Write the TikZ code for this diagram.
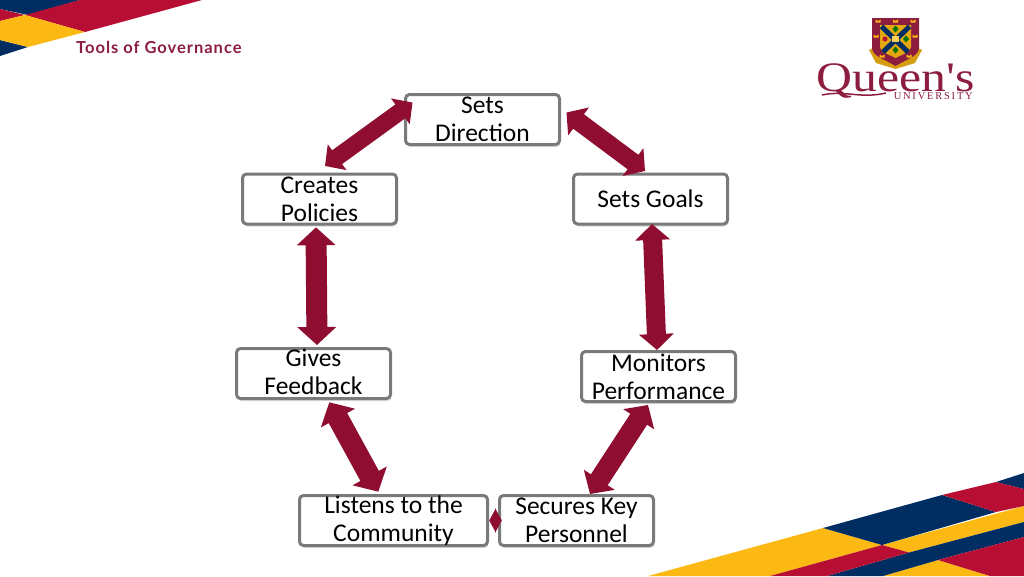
\documentclass[tikz,border=0pt]{standalone}
\usepackage{fontspec}
\setmainfont{Carlito}
\newfontfamily\headfont[LetterSpace=6]{Lato}
\newfontfamily\logofont{Liberation Serif}
\newfontfamily\univfont[LetterSpace=17]{Liberation Serif}
\usetikzlibrary{arrows.meta,shadows}
\definecolor{navyband}{HTML}{002D62}
\definecolor{redband}{HTML}{B90E34}
\definecolor{goldband}{HTML}{FDB913}
\definecolor{maroon}{HTML}{8F0D30}
\definecolor{logored}{HTML}{8C1D3F}
\definecolor{boxgray}{HTML}{7A7A7A}
\tikzset{
	stepbox/.style={draw=boxgray,line width=3pt,fill=white,rounded corners=4pt,inner sep=0pt,outer sep=0pt,
		minimum width=154pt,minimum height=50pt,align=center,font=\fontsize{25.5}{28}\selectfont,
		drop shadow={shadow xshift=1pt,shadow yshift=-2.5pt,opacity=0.3}},
	dblarrow/.style n args={3}{draw=maroon,line width=#1,
		{Triangle[length=#3,width=#2,fill=maroon]}-{Triangle[length=#3,width=#2,fill=maroon]}},
	tinyarrow/.style={draw=maroon,line width=0.1pt,{Triangle[length=6.5pt,width=24pt,fill=maroon]}-{Triangle[length=6.5pt,width=24pt,fill=maroon]}}
}
\begin{document}
\begin{tikzpicture}[x=1pt,y=-1pt,line join=round]
	\useasboundingbox (0,0) rectangle (1024,576);
	% top left bands
	\fill[navyband] (0,0)--(80,0)--(28,15)--(0,9)--cycle (0,40)--(28,47)--(0,56)--cycle;
	\fill[redband] (80,0)--(202,0)--(85,32)--(25,15)--cycle (0,9)--(25,15)--(0,21)--cycle;
	\fill[goldband] (0,21)--(25,15)--(85,32)--(28,47)--(0,40)--cycle;
	\node[anchor=west,inner sep=0pt,text=logored] (title) at (76,47.5) {\headfont\bfseries\fontsize{16.5}{18}\selectfont Tools of Governance};
	% bottom right bands
	\fill[goldband] (648,576)--(823,528)--(882,545)--(770,576)--cycle (882,545)--(1024,506)--(1024,522)--(909,552.5)--cycle (883,576)--(938,560)--(990,576)--cycle;
	\fill[navyband] (823,528)--(942,495)--(996,512)--(882,545)--cycle (996,482)--(1024,473)--(1024,489)--cycle (827,576)--(909,552.5)--(1024,522)--(1024,537)--(938,560)--(883,576)--cycle;
	\fill[redband] (942,495)--(996,482)--(1024,489)--(1024,506)--(996,512)--cycle (770,576)--(882,545)--(909,552.5)--(827,576)--cycle (938,560)--(1024,537)--(1024,576)--(990,576)--cycle;
	% crest
	\fill[goldband!85!black] (869,50)--(877,46)--(885,56)--(895.5,60)--(906,56)--(914,46)--(922,50)--(915,63)--(895.5,69)--(876,63)--cycle;
	\fill[logored] (872,18)--(919,18)--(919,48)..controls (919,56) and (905,60)..(895.5,66)..controls (886,60) and (872,56)..(872,48)--cycle;
	\fill[goldband!90!black] (880,25)--(911,25)--(911,47)..controls (911,52) and (901,55)..(895.5,58)..controls (890,55) and (880,52)..(880,47)--cycle;
	\draw[navyband,line width=5pt] (881.5,26.5)--(908,52) (909.5,26.5)--(883,52);
	\foreach \cx/\cy in {878/21,895.5/21,913/21,876/36,915/36,882/56,909/56}
		\fill[goldband] (\cx-2.5,\cy+1.5)--(\cx-2.5,\cy-1.5)--(\cx,\cy)--(\cx+2.5,\cy-1.5)--(\cx+2.5,\cy+1.5)--cycle;
	\foreach \cx/\cy in {895.5/29,906/39,895.5/50}
		\fill[green!45!black] (\cx-3,\cy)--(\cx,\cy-3.5)--(\cx+3,\cy)--(\cx,\cy+3.5)--cycle;
	\fill[redband] (885,39) circle (2.5pt);
	\fill[goldband!70!white] (892,36)--(899,36)--(899,42)--(892,42)--cycle;
	% wordmark
	\node[anchor=base west,inner sep=0pt,text=logored,xscale=1.185] (queens) at (816,91) {\logofont\fontsize{42}{46}\selectfont Queen's};
	\node[anchor=base east,inner sep=0pt,text=logored] (univ) at (973,99) {\univfont\fontsize{10.5}{12}\selectfont UNIVERSITY};
	\draw[logored,line width=1.5pt] (822,95)..controls (845,90) and (860,99)..(886,93);
	% boxes
	\node[stepbox] (direction) at (482.5,119.5) {Sets\\Direction};
	\node[stepbox] (goals) at (650.5,199) {Sets Goals};
	\node[stepbox] (policies) at (319.5,199) {Creates\\Policies};
	\node[stepbox] (feedback) at (313.5,373.5) {Gives\\Feedback\vphantom{g}};
	\node[stepbox] (monitors) at (658.5,376.5) {Monitors\\Performance};
	\node[stepbox,minimum width=188pt] (listens) at (393.5,520.5) {Listens to the\\Community};
	\node[stepbox] (secures) at (576.5,520.5) {Secures Key\\Personnel};
	% connectors
	\draw[dblarrow={17pt}{31pt}{15pt}] ([xshift=7pt,yshift=17pt]direction.west)--([xshift=5.5pt,yshift=8pt]policies.north);
	\draw[dblarrow={18pt}{34pt}{15pt}] ([xshift=7pt,yshift=7pt]direction.east)--([xshift=-5.5pt,yshift=3pt]goals.north);
	\draw[dblarrow={21pt}{38pt}{18pt}] ([xshift=-3.5pt,yshift=-3.3pt]policies.south)--([xshift=3.5pt,yshift=3.5pt]feedback.north);
	\draw[dblarrow={19pt}{34pt}{16pt}] ([xshift=1.5pt]goals.south)--([xshift=-1.5pt,yshift=1.5pt]monitors.north);
	\draw[dblarrow={21pt}{38pt}{18pt}] ([xshift=15.8pt,yshift=-3.8pt]feedback.south)--([xshift=-15.2pt,yshift=3.8pt]listens.north);
	\draw[dblarrow={20pt}{36pt}{17pt}] ([xshift=-10.5pt,yshift=-3.5pt]monitors.south)--([xshift=13.5pt,yshift=1.5pt]secures.north);
	\draw[tinyarrow] ([xshift=1.8pt]listens.east)--([xshift=2.2pt]secures.west);
\end{tikzpicture}
\end{document}
